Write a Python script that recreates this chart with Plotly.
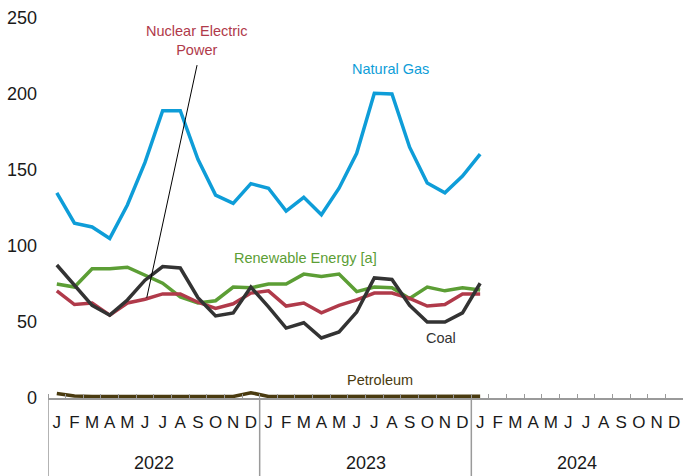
import plotly.graph_objects as go

months = ["J", "F", "M", "A", "M", "J", "J", "A", "S", "O", "N", "D"] * 3
years = ["2022", "2023", "2024"]

natural_gas = [135, 115, 112.5, 105, 127, 155, 189, 189, 157, 133.5, 128, 141,
               138, 123, 132, 120.5, 138, 161, 200.5, 200, 165, 141.5, 135, 146, 160.5]
coal = [87.5, 74, 61, 54.5, 64.5, 77.5, 86.5, 85.5, 66, 54, 56, 73,
        60, 46, 49.5, 39.5, 43.5, 56.5, 79, 78, 61, 50, 50, 56, 75.5]
nuclear = [70.5, 61.5, 62.5, 54.5, 62.5, 65, 68.5, 68.5, 63, 59, 62, 69,
           70.5, 60.5, 62.5, 56, 61, 64.5, 69, 69, 65.5, 60.5, 61.5, 68.5, 68.5]
renewable = [75, 73, 85, 85, 86, 81, 75.5, 66.5, 62.5, 64, 73, 72.5,
             75, 75, 81.5, 80, 81.5, 70, 73, 72.5, 65.5, 73, 70.5, 72.5, 71]
petroleum = [3, 1.3, 1, 1, 1, 1, 1, 1.2, 1.2, 1, 1, 3.5,
             1, 1, 1, 1, 1, 1.2, 1.5, 1.5, 1.2, 1, 1, 1, 1.2]

FONT = "Liberation Sans Narrow, Arial Narrow, Liberation Sans, Arial, sans-serif"

series = [
    ("Natural Gas", natural_gas, "#0E9DD8"),
    ("Renewable Energy [a]", renewable, "#5C9E35"),
    ("Nuclear Electric Power", nuclear, "#B03A4A"),
    ("Coal", coal, "#333333"),
    ("Petroleum", petroleum, "#4A3B10"),
]

fig = go.Figure()
x = list(range(len(natural_gas)))
for name, vals, col in series:
    fig.add_trace(go.Scatter(x=x, y=vals, mode="lines", name=name,
                             line=dict(color=col, width=3.5), showlegend=False,
                             cliponaxis=False))

fig.update_layout(
    width=683, height=476,
    margin=dict(l=48, r=0, t=18, b=78),
    plot_bgcolor="white", paper_bgcolor="white",
    font=dict(family=FONT, size=18, color="#1a1a1a"),
)
fig.update_xaxes(
    range=[-0.5, 35.5],
    tickmode="array", tickvals=list(range(36)), ticktext=months,
    ticks="", ticklabelstandoff=8,
    showline=True, linecolor="#9a9a9a", linewidth=1.5,
    showgrid=False, zeroline=False,
    minor=dict(tick0=-0.5, dtick=1, ticks="inside", ticklen=4, tickcolor="#9a9a9a", showgrid=False),
    tickfont=dict(size=17),
)
fig.update_yaxes(
    range=[0, 250], tickvals=[0, 50, 100, 150, 200, 250],
    showgrid=False, zeroline=False, showline=False,
    ticks="", ticklabelstandoff=10, tickfont=dict(size=18),
)

# year dividers and labels
for b in [-0.5, 11.5, 23.5]:
    fig.add_shape(type="line", xref="x", yref="paper", x0=b, x1=b, y0=0, y1=-0.21,
                  line=dict(color="#9a9a9a", width=1.5))
for i, yr in enumerate(years):
    fig.add_annotation(x=5.5 + 12 * i, y=-0.171, xref="x", yref="paper", text=yr,
                       showarrow=False, font=dict(size=18), yanchor="middle")

# series labels
fig.add_annotation(x=7.95, y=0.94, xref="x", yref="paper", text="Nuclear Electric<br>Power",
                   showarrow=False, font=dict(size=14.5, color="#B03A4A"), yanchor="middle")
fig.add_shape(type="line", xref="x", yref="y", x0=7.95, y0=219, x1=5.1, y1=66,
              line=dict(color="black", width=1))
fig.add_annotation(x=18.9, y=216.5, text="Natural Gas", showarrow=False,
                   font=dict(size=14.5, color="#0E9DD8"))
fig.add_annotation(x=14.1, y=92, text="Renewable Energy [a]", showarrow=False,
                   font=dict(size=14.5, color="#5C9E35"))
fig.add_annotation(x=21.8, y=39.5, text="Coal", showarrow=False,
                   font=dict(size=14.5, color="#333333"))
fig.add_annotation(x=18.3, y=12, text="Petroleum", showarrow=False,
                   font=dict(size=14.5, color="#4A3B10"))

fig.write_html("out.html", config={"displayModeBar": False},
               post_script="document.body.style.margin='0px';")
